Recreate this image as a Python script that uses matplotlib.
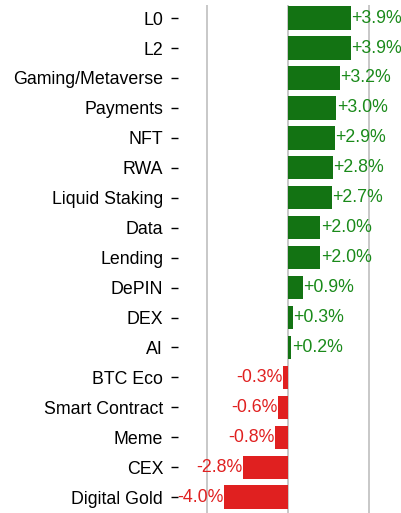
import matplotlib
matplotlib.use("Agg")
import matplotlib.pyplot as plt
from matplotlib import font_manager

# sector performance
sectors = ["L0", "L2", "Gaming/Metaverse", "Payments", "NFT", "RWA", "Liquid Staking",
           "Data", "Lending", "DePIN", "DEX", "AI", "BTC Eco", "Smart Contract",
           "Meme", "CEX", "Digital Gold"]
changes = [3.9, 3.9, 3.2, 3.0, 2.9, 2.8, 2.7, 2.0, 2.0, 0.9, 0.3, 0.2,
           -0.3, -0.6, -0.8, -2.8, -4.0]

names = {f.name for f in font_manager.fontManager.ttflist}
font = "Liberation Sans Narrow" if "Liberation Sans Narrow" in names else "Liberation Sans"
fs = 14 if font == "Liberation Sans Narrow" else 12.8
plt.rcParams["font.family"] = [font, "DejaVu Sans"]

green = "#137313"
red = "#e02020"

fig = plt.figure(figsize=(4.01, 5.13), dpi=100)
ax = fig.add_axes([0.445, 0.0, 0.555, 0.99])

y = list(range(len(sectors)))
colors = [green if v >= 0 else red for v in changes]
ax.barh(y, changes, height=0.78, color=colors, zorder=3)

for yi, v in zip(y, changes):
    txt = f"{v:+.1f}%"
    if v >= 0:
        ax.text(v + 0.02, yi, txt, va="center", ha="left", color="#1a8a1a", fontsize=fs, zorder=4)
    else:
        ax.text(v - 0.02, yi, txt, va="center", ha="right", color=red, fontsize=fs, zorder=4)

ax.set_yticks(y)
ax.set_yticklabels(sectors, fontsize=fs)
ax.set_ylim(16.53, -0.434)
ax.set_xlim(-6.8, 7.0)
ax.set_xticks([-5, 0, 5])
ax.tick_params(axis="x", bottom=False, labelbottom=False)
ax.tick_params(axis="y", length=5, width=1, pad=6)
ax.grid(axis="x", color="#c4c4c4", linewidth=1.3, zorder=0)
for s in ax.spines.values():
    s.set_visible(False)

fig.savefig("out.png", dpi=100)
